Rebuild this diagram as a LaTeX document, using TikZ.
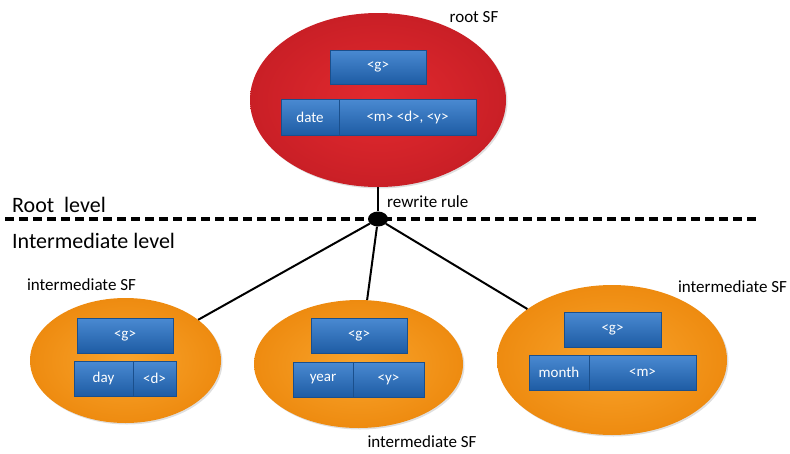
\documentclass[tikz,border=0pt]{standalone}
\usepackage{fontspec}
\setmainfont{Carlito}
\usetikzlibrary{shapes.geometric,shadows}
\definecolor{redin}{HTML}{E32A2F}
\definecolor{redout}{HTML}{C91F26}
\definecolor{orin}{HTML}{F9A42C}
\definecolor{orout}{HTML}{EE8B10}
\definecolor{bluetop}{HTML}{4A8AD2}
\definecolor{bluebot}{HTML}{1E5CA4}
\definecolor{blueline}{HTML}{1A4F8C}
\begin{document}
\begin{tikzpicture}[x=1pt,y=-1pt,
  sfshape/.style={ellipse, inner sep=0pt, drop shadow={opacity=0.25,shadow xshift=1.5pt,shadow yshift=-1.5pt}},
  rootsf/.style={sfshape, inner color=redin, outer color=redout},
  midsf/.style={sfshape, inner color=orin, outer color=orout},
  slot/.style={draw=blueline, line width=0.6pt, top color=bluetop, bottom color=bluebot,
    text=white, inner sep=0pt, font=\fontsize{15}{17}\selectfont,
    drop shadow={opacity=0.35,shadow xshift=1pt,shadow yshift=-1.2pt}},
  sflabel/.style={font=\fontsize{17}{19}\selectfont, inner sep=0pt},
  levellabel/.style={font=\fontsize{22}{25}\selectfont, inner sep=0pt, anchor=west},
  link/.style={line width=2pt, black},
  levelline/.style={line width=3.5pt, dash pattern=on 9pt off 5pt}]
\useasboundingbox (0,0) rectangle (790,453);

% ellipses
\node[rootsf, minimum width=256pt, minimum height=174pt] (root) at (378,100) {};
\node[midsf, minimum width=191pt, minimum height=125pt] (left) at (125.5,360.5) {};
\node[midsf, minimum width=209pt, minimum height=128pt] (mid) at (358.5,364) {};
\node[midsf, minimum width=230pt, minimum height=150pt] (right) at (612,360) {};

% level separator
\coordinate (lineL) at (5,219);
\coordinate (lineR) at (757,219);
\draw[levelline] (lineL) -- (lineR);

% junction
\node[ellipse, fill=black, minimum width=20pt, minimum height=15pt, inner sep=0pt] (junc) at (378,219) {};
\draw[link] (root) -- (junc);
\draw[link] (junc) -- (left);
\draw[link] (junc) -- (mid);
\draw[link] (junc) -- (right);

% labels
\node[sflabel] (rootlab) at (474,17) {root SF};
\node[sflabel] (leftlab) at (81.5,285) {intermediate SF};
\node[sflabel] (midlab) at (422,442) {intermediate SF};
\node[sflabel] (rightlab) at (732.5,287) {intermediate SF};
\node[sflabel, anchor=west] (rule) at (387,202) {rewrite rule};
\node[levellabel] (rootlevel) at (12,205) {Root\ \ level};
\node[levellabel] (intlevel) at (12,241) {Intermediate level};

% root slots
\node[slot, minimum width=96pt, minimum height=34pt] (rg) at (378,67) {<g>};
\node[slot, minimum width=58pt, minimum height=36pt] (rdate) at (310,117) {date};
\node[slot, minimum width=137pt, minimum height=36pt] (rmdy) at (407.5,117) {<m> <d>, <y>};

% left slots
\node[slot, minimum width=96pt, minimum height=35pt] (lg) at (125,335.5) {<g>};
\node[slot, minimum width=59pt, minimum height=35pt] (lday) at (103.5,378.5) {day};
\node[slot, minimum width=43pt, minimum height=35pt] (ld) at (154.5,378.5) {<d>};

% middle slots
\node[slot, minimum width=96pt, minimum height=35pt] (mg) at (359,335.5) {<g>};
\node[slot, minimum width=60pt, minimum height=35pt] (myear) at (323,379.5) {year};
\node[slot, minimum width=71pt, minimum height=35pt] (my) at (388.5,379.5) {<y>};

% right slots
\node[slot, minimum width=97pt, minimum height=35pt] (rtg) at (612.5,329.5) {<g>};
\node[slot, minimum width=60pt, minimum height=35pt] (rtmonth) at (559,372.5) {month};
\node[slot, minimum width=107pt, minimum height=35pt] (rtm) at (642.5,372.5) {<m>};
\end{tikzpicture}
\end{document}
